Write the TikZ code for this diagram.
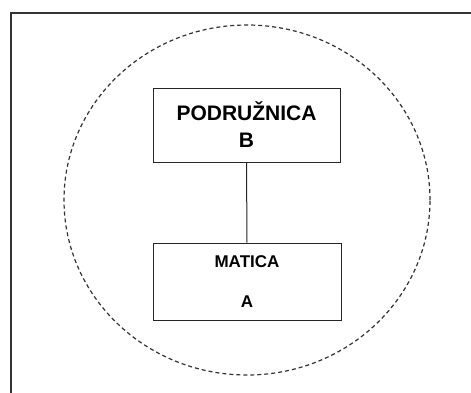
\documentclass[tikz,border=0pt]{standalone}
\usepackage{fontspec}
\setmainfont{Liberation Sans}
\usetikzlibrary{shapes.geometric}
\begin{document}
\begin{tikzpicture}[x=1pt,y=-1pt,
  frame/.style={draw=black!80,line width=1.4pt},
  group/.style={draw=black!80,dashed,dash pattern=on 4pt off 3pt,line width=1.2pt,ellipse,inner sep=0pt},
  unit/.style={draw=black!85,line width=1pt,inner sep=0pt,align=center,font=\bfseries},
  link/.style={draw=black!85,line width=1pt}]
\useasboundingbox (0,0) rectangle (471,392);
\clip (0,0) rectangle (471,392);
\fill[white] (0,0) rectangle (471,392);
\draw[frame] (11,13) rectangle (500,420);
\node[group,minimum width=366pt,minimum height=350pt] (grp) at (247,200) {};
\node[unit,minimum width=187pt,minimum height=74pt,font=\fontsize{21}{27}\selectfont\bfseries] (b) at (246.5,125) {PODRUŽNICA\\B};
\node[unit,minimum width=188pt,minimum height=77pt,font=\fontsize{17}{40}\selectfont\bfseries] (a) at (247,281.5) {MATICA\\A};
\draw[link] (b) -- (a);
\end{tikzpicture}
\end{document}
